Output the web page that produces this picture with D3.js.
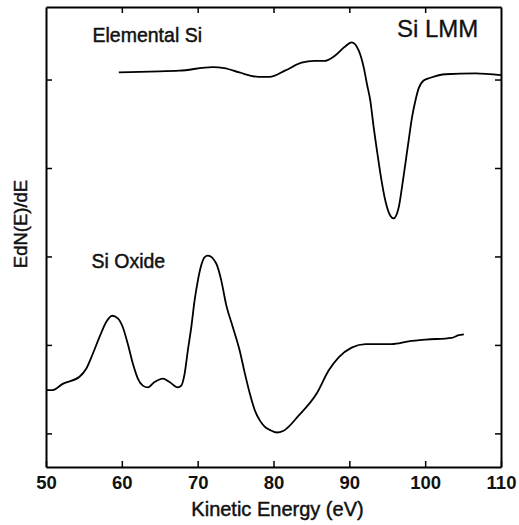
<!DOCTYPE html>
<html><head><meta charset="utf-8">
<script src="https://cdn.jsdelivr.net/npm/d3@7"></script>
<style>
body{margin:0;background:#fff;}
svg{display:block;font-family:"Liberation Sans",Arial,sans-serif;}
</style></head>
<body><svg id="c" width="519" height="525"></svg>
<script>
const xTicks = [50, 60, 70, 80, 90, 100, 110];
const yTicks = [0, 1, 2, 3, 4];
const elementalSi = [
  [59.6,4.08],[63.7,4.09],[67.6,4.10],[72.0,4.14],[73.5,4.13],[75.5,4.08],[78.0,4.03],
  [79.5,4.03],[81.5,4.10],[83.7,4.19],[85.4,4.21],[86.7,4.21],[88.1,4.27],[89.4,4.37],
  [90.3,4.42],[91.23,4.33],[91.89,4.14],[92.32,3.95],[92.77,3.76],[93.21,3.46],[93.64,3.20],
  [94.09,2.94],[94.75,2.63],[95.41,2.46],[95.84,2.43],[96.5,2.55],[96.94,2.78],[97.39,3.05],
  [97.82,3.31],[98.26,3.57],[98.71,3.76],[99.14,3.90],[99.8,3.99],[100.69,4.02],[102.67,4.06],
  [106.6,4.07],[110,4.05]
];
const siOxide = [
  [50.0,0.49],[50.9,0.49],[52.2,0.56],[54.42,0.64],[55.3,0.73],[56.17,0.90],[57.06,1.09],
  [57.94,1.26],[58.73,1.33],[59.47,1.30],[60.13,1.20],[60.79,1.01],[61.45,0.79],[62.11,0.62],
  [62.77,0.54],[63.43,0.52],[64.31,0.58],[65.41,0.62],[66.29,0.58],[67.39,0.52],[67.84,0.54],
  [68.27,0.67],[68.71,0.94],[69.16,1.20],[69.59,1.50],[70.03,1.73],[70.47,1.90],[70.9,1.99],
  [71.35,2.01],[72.45,1.92],[73.11,1.73],[73.77,1.45],[74.64,1.20],[75.53,0.94],[76.19,0.69],
  [76.85,0.46],[77.5,0.27],[78.17,0.15],[78.8,0.08],[79.5,0.04],[80.4,0.01],[81.33,0.03],
  [83.31,0.20],[85.69,0.45],[87.27,0.71],[88.59,0.86],[90.3,0.97],[92.15,1.01],[95.6,1.01],
  [97.8,1.04],[100.1,1.06],[103.5,1.08],[104.4,1.11],[105.1,1.12]
];
const labels = {elemental:"Elemental Si", oxide:"Si Oxide", title:"Si LMM", xTitle:"Kinetic Energy (eV)", yTitle:"EdN(E)/dE"};

const L=46, R=501, T=7, B=467;
const svg = d3.select("#c");
const x = d3.scaleLinear().domain([50,110]).range([L,R]);
const y = d3.scaleLinear().domain([-0.38,4.82]).range([B,T]);

function styleAxis(g){
  g.select(".domain").attr("stroke","#000").attr("stroke-width",2);
  g.selectAll(".tick line").attr("stroke","#000").attr("stroke-width",1.5);
}
svg.append("g").attr("transform",`translate(0,${B})`)
  .call(d3.axisBottom(x).tickValues(xTicks).tickSizeInner(-6).tickSizeOuter(0).tickPadding(9))
  .call(styleAxis)
  .call(g=>g.selectAll(".tick text").attr("font-size",18.5).attr("font-weight","bold").attr("fill","#111")
        .attr("font-family","'Liberation Sans',Arial,sans-serif").attr("dy","0.71em"));
svg.append("g").attr("transform",`translate(0,${T})`)
  .call(d3.axisTop(x).tickValues(xTicks.slice(1,-1)).tickSizeInner(-6).tickSizeOuter(0).tickFormat(""))
  .call(styleAxis);
svg.append("g").attr("transform",`translate(${L},0)`)
  .call(d3.axisLeft(y).tickValues(yTicks).tickSizeInner(-6).tickSizeOuter(0).tickFormat(""))
  .call(styleAxis);
svg.append("g").attr("transform",`translate(${R},0)`)
  .call(d3.axisRight(y).tickValues(yTicks).tickSizeInner(-6).tickSizeOuter(0).tickFormat(""))
  .call(styleAxis);

const line = d3.line().x(d=>x(d[0])).y(d=>y(d[1])).curve(d3.curveMonotoneX);
[elementalSi, siOxide].forEach(s=>{
  svg.append("path").datum(s).attr("d",line).attr("fill","none").attr("stroke","#000").attr("stroke-width",1.8).attr("stroke-linejoin","round");
});

function lab(t){ return t.attr("fill","#111").attr("stroke","#111").attr("stroke-width",0.45); }
lab(svg.append("text").attr("x",92.5).attr("y",41.5).attr("font-size",19.5).text(labels.elemental));
lab(svg.append("text").attr("x",91.5).attr("y",268).attr("font-size",19.5).text(labels.oxide));
lab(svg.append("text").attr("x",397).attr("y",37).attr("font-size",24).text(labels.title)).attr("stroke-width",0.3);
lab(svg.append("text").attr("x",(L+R)/2+4).attr("y",515.5).attr("text-anchor","middle").attr("font-size",20).text(labels.xTitle));
lab(svg.append("text").attr("transform","translate(27,224) rotate(-90)").attr("text-anchor","middle").attr("font-size",18.5).text(labels.yTitle));
</script></body></html>
